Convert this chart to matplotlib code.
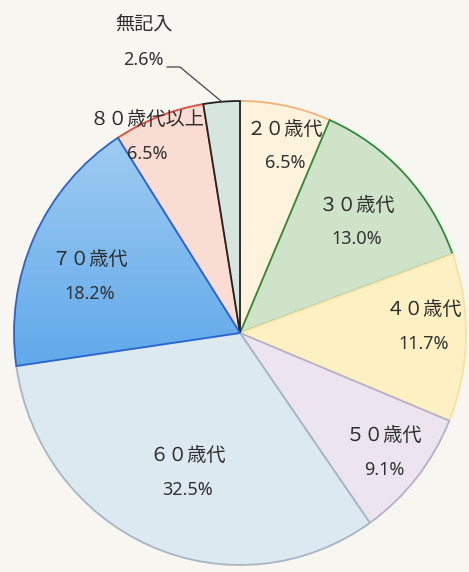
import matplotlib
matplotlib.use("Agg")
import matplotlib.pyplot as plt
from matplotlib.colors import LinearSegmentedColormap
import numpy as np

plt.rcParams['font.family'] = ['Noto Sans CJK JP', 'DejaVu Sans']

# data
labels = ['２０歳代', '３０歳代', '４０歳代', '５０歳代', '６０歳代', '７０歳代', '８０歳代以上', '無記入']
values = [6.5, 13.0, 11.7, 9.1, 32.5, 18.2, 6.5, 2.6]
pct_text = ['6.5%', '13.0%', '11.7%', '9.1%', '32.5%', '18.2%', '6.5%', '2.6%']

face_colors = ['#fdf2dc', '#cfe3c9', '#fdf0c2', '#ece4ee', '#dde9f1', '#8fc2ee', '#f9ddd3', '#d6e6df']
edge_colors = ['#f2b27a', '#2f8a3c', '#f3e3a8', '#b8b0c4', '#a8b6c4', '#2a64d2', '#e04a3c', '#222222']
# label radius (fraction of pie radius) and angle nudge (deg, ccw)
lab_r = [0.83, 0.705, 0.815, 0.82, 0.645, 0.71, 0.94, 0.0]
lab_da = [-2.2, -0.5, 3.1, -0.4, 2.2, 4.5, 4.9, 0.0]

W, H = 469, 572
k = 232 / 226  # scan is slightly taller than wide
fig = plt.figure(figsize=(W / 100, H / 100), dpi=100)
fig.patch.set_facecolor('#f7f6f0')
ax = fig.add_axes([0, 0, 1, 1])
ax.set_facecolor('#f7f6f0')

cx, cy, R = 240 * k, H - 333, 232
wedges, _ = ax.pie(values, startangle=90, counterclock=False, radius=R,
                   center=(cx, cy), colors=face_colors,
                   wedgeprops=dict(linewidth=1.3), frame=True)
for w, ec in zip(wedges, edge_colors):
    w.set_edgecolor(ec)

# gradient shading on the 70s wedge
w70 = wedges[5]
grad = np.tile(np.linspace(0, 1, 200), (200, 1))
cmap = LinearSegmentedColormap.from_list('b', ['#5ea8ea', '#a9d1f2'])
im = ax.imshow(grad.T[::-1], extent=(cx - R, cx, cy - 40, cy + R), cmap=cmap,
               origin='upper', aspect='auto', zorder=w70.get_zorder() + 0.1)
im.set_clip_path(w70)
w70.set_zorder(w70.get_zorder() + 0.2)
w70.set_facecolor('none')

name_kw = dict(ha='center', va='center', fontsize=13.8, color='#2e2e2e', zorder=10)
pct_kw = dict(ha='center', va='center', fontsize=13, color='#333333', zorder=10,
              family=['Noto Sans', 'DejaVu Sans'])

for i, w in enumerate(wedges[:-1]):
    ang = np.deg2rad((w.theta1 + w.theta2) / 2 + lab_da[i])
    x = cx + lab_r[i] * R * np.cos(ang)
    y = cy + lab_r[i] * R * np.sin(ang)
    ax.text(x, y + 17, labels[i], **name_kw)
    ax.text(x, y - 17, pct_text[i], **pct_kw)

# 無記入 label outside with leader line
wl = wedges[-1]
ang = np.deg2rad(wl.theta1 + 4.6)
tip = (cx + R * np.cos(ang), cy + R * np.sin(ang))
ax.text(144 * k, H - 24, labels[-1], **name_kw)
ax.text(143 * k, H - 60, pct_text[-1], **pct_kw)
ax.plot([167 * k, 180 * k, tip[0]], [H - 67, H - 67, tip[1]], color='#444444', lw=0.9)

ax.set_xlim(0, W * k)
ax.set_ylim(0, H)
ax.set_aspect('auto')
ax.axis('off')
fig.savefig('out.png', dpi=100, facecolor=fig.get_facecolor())
